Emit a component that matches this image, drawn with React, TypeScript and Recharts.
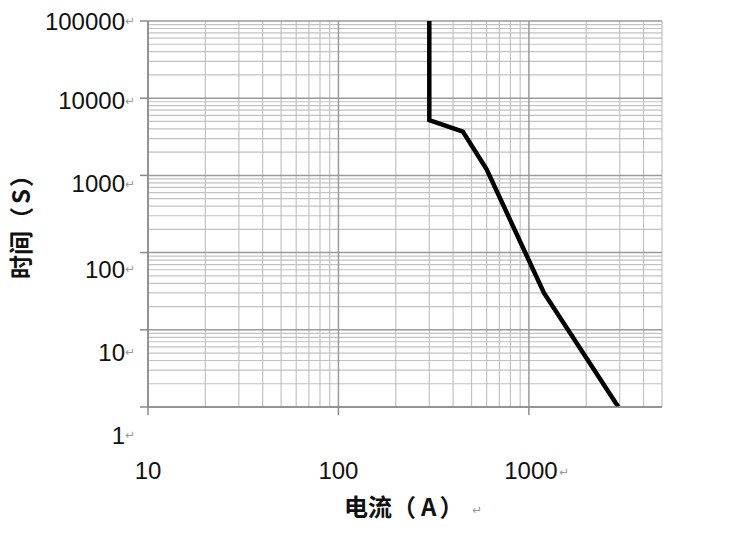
import React from 'react';
import { LineChart, Line, XAxis, YAxis, ReferenceLine, Label } from 'recharts';

// Curve points (current in A, time in s)
const currentA = [300, 300, 450, 600, 1200, 2950];
const timeS = [100000, 5200, 3700, 1200, 30, 1];

// Axis ticks and labels
const xMajorTicks = [10, 100, 1000];
const xTickLabels = ['10', '100', '1000'];
const yMajorTicks = [1, 10, 100, 1000, 10000, 100000];
const yTickLabels = ['1', '10', '100', '1000', '10000', '100000'];

// Minor grid values
const xMinorGrid = [20, 30, 40, 50, 60, 70, 80, 90, 200, 300, 400, 500, 600, 700, 800, 900, 2000, 3000, 4000, 5000];
const yMinorGrid = [
  2, 3, 4, 5, 6, 7, 8, 9,
  20, 30, 40, 50, 60, 70, 80, 90,
  200, 300, 400, 500, 600, 700, 800, 900,
  2000, 3000, 4000, 5000, 6000, 7000, 8000, 9000,
  20000, 30000, 40000, 50000, 60000, 70000, 80000, 90000,
];

const data = currentA.map((c, i) => ({ current: c, time: timeS[i] }));

const NUM_FONT = '"Liberation Sans", Arial, sans-serif';
const CJK_FONT = '"Noto Sans CJK SC", sans-serif';
const MARK_FONT = '"DejaVu Sans", sans-serif';

const YTick = (props: any) => {
  const { x, y, payload } = props;
  const v = payload.value;
  const idx = yMajorTicks.indexOf(v);
  const shift = (5 - Math.log10(v)) * 5.6 - (v === 10000 || v === 1000 ? 3 : 0);
  return (
    <g>
      <text x={x - 13} y={y + shift} textAnchor="end" dominantBaseline="central" fontFamily={NUM_FONT} fontSize={24} fill="#111">
        {yTickLabels[idx]}
      </text>
      <text x={x - 13} y={y + shift} textAnchor="start" dominantBaseline="central" fontFamily={MARK_FONT} fontSize={12} fill="#999">
        ↵
      </text>
    </g>
  );
};

const XTick = (props: any) => {
  const { x, y, payload } = props;
  const v = payload.value;
  const idx = xMajorTicks.indexOf(v);
  const last = idx === xMajorTicks.length - 1;
  return (
    <g>
      <text x={x + (last ? 2 : 0)} y={y + 53} textAnchor="middle" dominantBaseline="central" fontFamily={NUM_FONT} fontSize={24} fill="#111">
        {xTickLabels[idx]}
      </text>
      {last && (
        <text x={x + 30} y={y + 55} textAnchor="start" dominantBaseline="central" fontFamily={MARK_FONT} fontSize={12} fill="#999">
          ↵
        </text>
      )}
    </g>
  );
};

const XTitle = (p: any) => {
  const vb = p.viewBox;
  return (
    <g>
      <text x={vb.x + 196} y={vb.y + 98} textAnchor="start" dominantBaseline="central" fontFamily={CJK_FONT} fontWeight="bold" fontSize={24} fill="#111">
        <tspan>电流（</tspan>
        <tspan dx={5}>A</tspan>
        <tspan dx={3}>）</tspan>
      </text>
      <text x={vb.x + 324} y={vb.y + 103} textAnchor="start" dominantBaseline="central" fontFamily={MARK_FONT} fontSize={12} fill="#999">
        ↵
      </text>
    </g>
  );
};

const YTitle = (p: any) => {
  const vb = p.viewBox;
  const cx = vb.x + 19;
  const cy = vb.y + 258;
  return (
    <text x={cx} y={cy} transform={`rotate(-90, ${cx}, ${cy})`} textAnchor="start" dominantBaseline="central" fontFamily={CJK_FONT} fontWeight="bold" fontSize={24} fill="#111">
      <tspan>时间（</tspan>
      <tspan dx={3}>S</tspan>
      <tspan dx={2}>）</tspan>
    </text>
  );
};

export default function App() {
  return (
    <div style={{ position: 'absolute', left: 0, top: 0, background: '#fff' }}>
      <LineChart width={750} height={540} data={data} margin={{ top: 21, right: 88, bottom: 0, left: 0 }}>
        <XAxis
          dataKey="current"
          type="number"
          scale="log"
          domain={[10, 5000]}
          allowDataOverflow
          ticks={xMajorTicks}
          interval={0}
          height={133}
          tickSize={8}
          axisLine={{ stroke: '#8a8a8a', strokeWidth: 1.5 }}
          tickLine={{ stroke: '#8a8a8a', strokeWidth: 1.5 }}
          tick={<XTick />}
        >
          <Label content={<XTitle />} />
        </XAxis>
        <YAxis
          type="number"
          scale="log"
          domain={[1, 100000]}
          allowDataOverflow
          ticks={yMajorTicks}
          interval={0}
          width={148}
          tickSize={8}
          axisLine={{ stroke: '#8a8a8a', strokeWidth: 1.5 }}
          tickLine={{ stroke: '#8a8a8a', strokeWidth: 1.5 }}
          tick={<YTick />}
        >
          <Label content={<YTitle />} />
        </YAxis>
        {xMinorGrid.map((v) => (
          <ReferenceLine key={'xm' + v} x={v} stroke="#c2c2c2" strokeWidth={1.2} zIndex={-100} />
        ))}
        {yMinorGrid.map((v) => (
          <ReferenceLine key={'ym' + v} y={v} stroke="#c2c2c2" strokeWidth={1.2} zIndex={-100} />
        ))}
        {xMajorTicks.map((v) => (
          <ReferenceLine key={'xM' + v} x={v} stroke="#9a9a9a" strokeWidth={1.5} zIndex={-90} />
        ))}
        {yMajorTicks.map((v) => (
          <ReferenceLine key={'yM' + v} y={v} stroke="#9a9a9a" strokeWidth={1.5} zIndex={-90} />
        ))}
        <Line
          type="linear"
          dataKey="time"
          stroke="#000"
          strokeWidth={4.5}
          dot={false}
          activeDot={false}
          isAnimationActive={false}
        />
      </LineChart>
    </div>
  );
}
